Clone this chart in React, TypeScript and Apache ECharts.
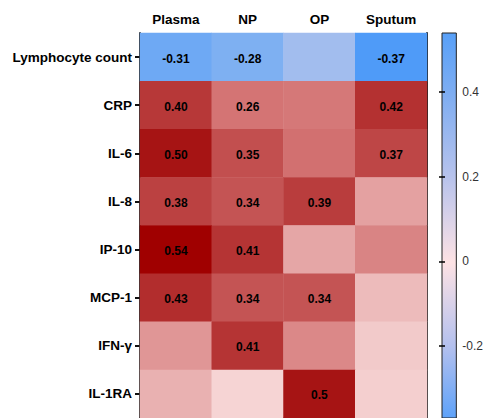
import React, { useEffect, useRef } from "react";
import * as echarts from "echarts";

const columns = ["Plasma", "NP", "OP", "Sputum"];
const rows = ["Lymphocyte count", "CRP", "IL-6", "IL-8", "IP-10", "MCP-1", "IFN-γ", "IL-1RA"];
// values per row, one per column (Plasma, NP, OP, Sputum)
const lymphocyte = [-0.31, -0.28, -0.18, -0.37];
const crp = [0.4, 0.26, 0.25, 0.42];
const il6 = [0.5, 0.35, 0.27, 0.37];
const il8 = [0.38, 0.34, 0.39, 0.16];
const ip10 = [0.54, 0.41, 0.15, 0.22];
const mcp1 = [0.43, 0.34, 0.34, 0.11];
const ifng = [0.18, 0.41, 0.21, 0.08];
const il1ra = [0.13, 0.06, 0.5, 0.07];
const rowValues = [lymphocyte, crp, il6, il8, ip10, mcp1, ifng, il1ra];
// printed labels (significant cells only)
const cellLabels = [
  ["-0.31", "-0.28", "", "-0.37"],
  ["0.40", "0.26", "", "0.42"],
  ["0.50", "0.35", "", "0.37"],
  ["0.38", "0.34", "0.39", ""],
  ["0.54", "0.41", "", ""],
  ["0.43", "0.34", "0.34", ""],
  ["", "0.41", "", ""],
  ["", "", "0.5", ""],
];
const colorbarTicks = [-0.2, 0, 0.2, 0.4];
const scaleMin = -0.37;
const scaleMax = 0.54;

const cellStops: [number, string][] = [
  [-0.37, "#4f9bf8"],
  [-0.28, "#7eb0f2"],
  [-0.18, "#a2bdee"],
  [0, "#fbf0f0"],
  [0.06, "#f6d4d4"],
  [0.12, "#ebb6b6"],
  [0.2, "#dc8c8c"],
  [0.26, "#d47474"],
  [0.34, "#c45454"],
  [0.4, "#b73838"],
  [0.5, "#a61414"],
  [0.54, "#a00000"],
];

function hexToRgb(h: string) {
  const n = parseInt(h.slice(1), 16);
  return [(n >> 16) & 255, (n >> 8) & 255, n & 255];
}
function colorAt(v: number) {
  if (v <= cellStops[0][0]) return cellStops[0][1];
  for (let i = 1; i < cellStops.length; i++) {
    const [v1, c1] = cellStops[i];
    const [v0, c0] = cellStops[i - 1];
    if (v <= v1) {
      const t = (v - v0) / (v1 - v0);
      const a = hexToRgb(c0), b = hexToRgb(c1);
      const r = a.map((x, k) => Math.round(x + (b[k] - x) * t));
      return `rgb(${r[0]},${r[1]},${r[2]})`;
    }
  }
  return cellStops[cellStops.length - 1][1];
}

export default function App() {
  const ref = useRef<HTMLDivElement>(null);
  useEffect(() => {
    if (!ref.current) return;
    const chart = echarts.init(ref.current, null, { renderer: "svg" });
    const data: any[] = [];
    rowValues.forEach((vals, r) => {
      vals.forEach((v, c) => {
        data.push({ value: [c, r, v], label: { formatter: cellLabels[r][c] } });
      });
    });
    const nSamples = 92;
    const inRange: string[] = [];
    for (let i = 0; i < nSamples; i++) {
      inRange.push(colorAt(scaleMin + ((scaleMax - scaleMin) * i) / (nSamples - 1)));
    }
    const font = "'Liberation Sans', Arial, Helvetica, sans-serif";
    const option: any = {
      animation: false,
      textStyle: { fontFamily: font },
      grid: [
        { left: 140, top: 33, width: 287, height: 385 },
        {
          left: 442,
          top: 33,
          width: 15,
          height: 385,
          show: true,
          borderColor: "#222",
          borderWidth: 1,
          backgroundColor: new echarts.graphic.LinearGradient(0, 0, 0, 1, [
            { offset: 0, color: "#58a0f8" },
            { offset: 0.158, color: "#7eadf1" },
            { offset: 0.377, color: "#b8c3ec" },
            { offset: 0.596, color: "#fde2e4" },
            { offset: 0.815, color: "#b3c0ee" },
            { offset: 1, color: "#5ea2f9" },
          ]),
        },
      ],
      visualMap: {
        show: false,
        type: "continuous",
        min: scaleMin,
        max: scaleMax,
        seriesIndex: 0,
        dimension: 2,
        inRange: { color: inRange },
      },
      xAxis: [
        {
          gridIndex: 0,
          type: "category",
          data: columns,
          position: "top",
          axisLine: { show: true, lineStyle: { color: "#222", width: 2 } },
          axisTick: { show: true, alignWithLabel: true, length: 4, lineStyle: { color: "#111", width: 2 } },
          axisLabel: { color: "#000", fontWeight: "bold", fontSize: 13.5, margin: 7, fontFamily: font },
          splitLine: { show: false },
        },
        { gridIndex: 1, type: "value", show: false, min: 0, max: 1 },
      ],
      yAxis: [
        {
          gridIndex: 0,
          type: "category",
          data: rows,
          inverse: true,
          axisLine: { show: true, lineStyle: { color: "#333", width: 2 } },
          axisTick: { show: true, alignWithLabel: true, length: 5, lineStyle: { color: "#111", width: 2 } },
          axisLabel: { color: "#000", fontWeight: "bold", fontSize: 13.5, margin: 8, fontFamily: font },
          splitLine: { show: false },
        },
        {
          gridIndex: 0,
          type: "value",
          position: "right",
          min: 0,
          max: 1,
          axisLine: { show: true, onZero: false, lineStyle: { color: "#222", width: 2 } },
          axisTick: { show: false },
          axisLabel: { show: false },
          splitLine: { show: false },
        },
        {
          gridIndex: 1,
          type: "value",
          position: "right",
          min: scaleMin,
          max: scaleMax,
          axisLine: { show: false },
          axisTick: {
            show: true,
            inside: true,
            length: 3,
            customValues: colorbarTicks,
            lineStyle: { color: "#000", width: 1.5 },
          },
          axisLabel: {
            show: true,
            customValues: colorbarTicks,
            margin: 6,
            fontSize: 12,
            color: "#333",
            fontFamily: font,
          },
          splitLine: { show: false },
        },
        {
          gridIndex: 1,
          type: "value",
          position: "left",
          min: scaleMin,
          max: scaleMax,
          axisLine: { show: false },
          axisTick: {
            show: true,
            inside: true,
            length: 3,
            customValues: colorbarTicks,
            lineStyle: { color: "#000", width: 1.5 },
          },
          axisLabel: { show: false },
          splitLine: { show: false },
        },
      ],
      series: [
        {
          type: "heatmap",
          xAxisIndex: 0,
          yAxisIndex: 0,
          data,
          itemStyle: { borderWidth: 0 },
          label: {
            show: true,
            color: "#000",
            fontWeight: "bold",
            fontSize: 12,
            offset: [0, 1.5],
            fontFamily: font,
          },
          emphasis: { disabled: true },
        },
      ],
    };
    chart.setOption(option);
    return () => chart.dispose();
  }, []);
  return (
    <div
      ref={ref}
      style={{ position: "absolute", left: 0, top: 0, width: 486, height: 418 }}
    />
  );
}
